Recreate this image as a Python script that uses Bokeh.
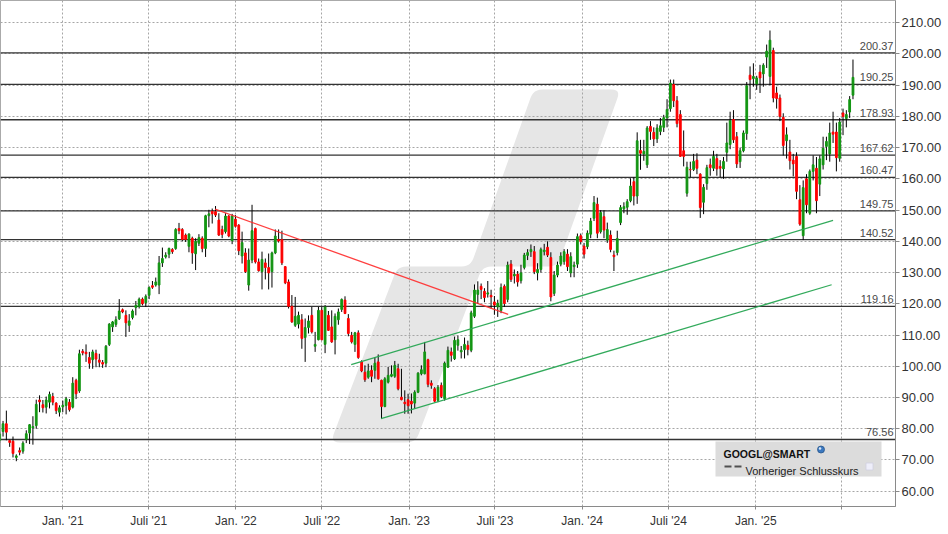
import math
import pandas as pd
from bokeh.plotting import figure
from bokeh.models import (ColumnDataSource, Range1d, FixedTicker, PrintfTickFormatter,
                          Span, BoxAnnotation, Label, LabelSet)
from bokeh.core.properties import value
from bokeh.embed import file_html
from bokeh.resources import INLINE

# ---------------------------------------------------------------- data
FIRST_WEEK = "2020-08-21"   # Friday of the first weekly candle

opens = [
    76.2, 79.1, 81.6, 76.2, 76.0, 70.8, 73.0, 72.8, 76.6, 78.6,
    80.3, 81.0, 89.2, 87.7, 86.9, 88.5, 90.3, 88.2, 85.3, 87.0,
    87.4, 88.5, 86.9, 95.5, 92.1, 104.8, 104.5, 102.8, 102.1, 104.1,
    102.0, 101.2, 101.0, 107.0, 112.6, 113.4, 115.2, 118.1, 116.3, 113.1,
    115.6, 118.8, 119.2, 121.5, 120.3, 122.7, 125.8, 126.0, 126.0, 133.1,
    135.0, 135.9, 137.4, 137.7, 144.1, 143.8, 142.0, 138.4, 141.0, 136.0,
    139.4, 141.0, 137.7, 148.2, 149.6, 149.5, 146.8, 143.8, 143.1, 148.1,
    140.2, 147.1, 145.2, 135.3, 136.3, 126.0, 134.0, 144.1, 133.4, 130.3,
    133.1, 131.6, 130.3, 136.3, 140.6, 140.6, 131.9, 127.0, 119.2, 113.1,
    113.5, 114.9, 109.2, 112.4, 116.3, 106.4, 108.5, 117.9, 107.0, 116.3,
    112.6, 108.5, 114.9, 118.2, 121.2, 115.3, 109.9, 107.0, 110.7, 101.4,
    98.1, 96.5, 98.7, 98.7, 101.4, 95.5, 87.1, 94.9, 96.8, 96.8,
    99.2, 90.1, 88.5, 89.3, 88.8, 88.2, 91.7, 97.6, 97.6, 102.1,
    94.6, 92.8, 89.1, 93.9, 89.6, 99.7, 104.6, 102.4, 106.7, 104.6,
    105.3, 106.7, 105.1, 116.0, 123.0, 125.6, 124.0, 123.1, 122.7, 120.6,
    119.0, 117.9, 125.6, 121.4, 132.7, 128.9, 129.5, 127.4, 131.6, 135.5,
    136.7, 136.7, 129.9, 131.0, 136.7, 138.1, 134.8, 123.3, 129.2, 132.7,
    133.5, 135.9, 129.9, 131.9, 132.7, 141.8, 138.5, 138.3, 142.3, 147.4,
    151.9, 143.1, 147.9, 140.4, 142.0, 135.6, 136.4, 146.0, 150.4, 150.9,
    153.0, 159.1, 154.5, 169.1, 168.0, 164.5, 176.8, 174.9, 172.8, 175.2,
    176.5, 179.5, 182.5, 190.2, 185.0, 180.6, 169.0, 155.4, 163.0, 163.0,
    166.0, 161.5, 152.5, 158.5, 164.5, 163.4, 166.5, 164.0, 163.2, 168.5,
    171.0, 179.0, 173.5, 165.5, 169.0, 174.5, 193.2, 192.1, 190.4, 194.2,
    193.6, 199.0, 192.8, 201.1, 187.5, 185.9, 179.7, 172.2, 168.6, 166.0,
    167.2, 153.3, 141.8, 160.0, 149.0, 162.4, 163.4, 158.3, 164.5, 170.4,
    168.0, 175.0, 175.0, 166.6, 181.1, 179.3, 181.4, 186.8,
]
highs = [
    79.0, 82.5, 85.8, 76.5, 77.5, 71.8, 74.0, 76.0, 79.5, 81.5,
    84.0, 89.3, 90.7, 89.2, 90.3, 91.9, 91.5, 88.5, 87.5, 89.0,
    90.2, 89.5, 96.5, 96.0, 105.3, 105.5, 107.0, 104.6, 105.3, 105.3,
    104.0, 102.0, 106.8, 113.8, 114.5, 116.0, 121.5, 118.5, 117.9, 116.7,
    118.2, 120.9, 122.0, 122.0, 123.0, 125.6, 127.3, 128.4, 135.3, 138.0,
    136.5, 138.0, 137.8, 144.2, 145.9, 144.2, 142.5, 142.6, 141.5, 141.0,
    142.3, 141.6, 148.5, 150.1, 150.5, 151.3, 149.0, 145.0, 149.0, 148.4,
    148.8, 148.4, 145.5, 143.1, 137.8, 137.7, 151.7, 144.4, 134.5, 136.7,
    134.5, 136.1, 136.7, 143.8, 143.8, 143.4, 132.1, 127.8, 122.8, 122.2,
    117.5, 116.7, 115.3, 116.3, 119.0, 111.0, 119.0, 119.0, 119.6, 117.7,
    117.9, 116.9, 118.5, 121.7, 122.4, 116.7, 111.0, 111.0, 111.5, 101.9,
    100.3, 100.8, 100.3, 102.9, 103.8, 95.7, 96.5, 99.8, 100.3, 101.7,
    100.8, 99.2, 92.3, 91.2, 91.3, 92.3, 98.1, 100.3, 107.8, 102.4,
    95.5, 93.3, 94.0, 94.8, 101.5, 106.3, 106.0, 109.5, 109.8, 106.5,
    109.2, 108.2, 117.8, 126.2, 127.2, 126.5, 125.0, 127.3, 124.5, 122.5,
    121.3, 126.5, 126.2, 133.5, 134.0, 131.0, 130.5, 132.5, 136.3, 137.5,
    139.0, 138.5, 133.0, 138.0, 139.2, 140.0, 136.5, 130.5, 133.5, 136.5,
    137.5, 137.5, 136.5, 133.5, 142.5, 142.5, 139.5, 143.5, 147.5, 154.5,
    154.0, 150.0, 150.0, 146.0, 143.5, 137.0, 143.4, 151.6, 152.5, 153.5,
    160.2, 160.5, 174.9, 172.5, 172.5, 176.9, 178.5, 176.5, 177.5, 179.5,
    180.5, 185.5, 191.8, 191.8, 186.5, 182.0, 175.5, 165.5, 165.5, 168.0,
    168.2, 161.8, 158.3, 164.5, 166.5, 169.0, 168.0, 166.0, 167.0, 178.0,
    181.5, 182.0, 175.0, 170.0, 175.5, 191.0, 196.0, 197.0, 193.0, 196.5,
    197.0, 203.0, 207.5, 202.0, 189.5, 187.0, 181.0, 176.5, 172.5, 168.0,
    168.5, 158.0, 159.5, 161.5, 163.0, 167.5, 167.0, 167.5, 173.5, 173.5,
    178.0, 181.5, 178.0, 179.5, 182.5, 182.0, 186.5, 198.2,
]
lows = [
    75.5, 77.5, 76.3, 74.2, 70.8, 69.6, 71.5, 72.0, 75.4, 75.1,
    74.9, 80.0, 85.3, 85.2, 84.9, 86.5, 87.5, 84.7, 83.9, 85.3,
    84.6, 85.5, 86.5, 89.5, 91.5, 103.5, 101.4, 99.2, 99.2, 99.7,
    99.7, 99.5, 99.7, 106.5, 111.0, 112.6, 114.8, 117.0, 109.4, 111.0,
    115.0, 116.3, 118.5, 119.5, 119.0, 121.5, 124.8, 125.5, 123.1, 131.8,
    134.5, 134.6, 136.0, 137.3, 142.3, 140.0, 139.8, 136.5, 132.8, 130.8,
    138.5, 136.5, 135.0, 144.5, 145.7, 147.8, 141.7, 141.0, 142.5, 141.3,
    139.1, 144.4, 135.6, 132.9, 129.9, 124.2, 133.0, 132.9, 130.3, 124.6,
    127.8, 124.6, 125.2, 135.9, 139.6, 132.4, 126.3, 118.5, 113.9, 112.6,
    112.1, 105.6, 101.4, 110.5, 110.5, 104.6, 108.3, 108.3, 104.2, 111.3,
    107.5, 103.8, 113.3, 117.4, 116.7, 109.6, 107.3, 104.6, 102.4, 98.1,
    95.0, 96.0, 94.9, 96.0, 95.7, 83.2, 86.9, 94.5, 96.5, 96.3,
    92.3, 89.1, 84.8, 84.8, 84.9, 86.4, 91.4, 97.1, 97.4, 93.3,
    92.8, 88.5, 88.5, 89.8, 89.0, 99.5, 101.5, 102.0, 105.0, 102.5,
    102.5, 103.5, 104.5, 115.5, 120.0, 121.5, 120.5, 122.0, 118.5, 116.5,
    115.8, 117.0, 119.0, 120.5, 127.0, 126.5, 125.5, 126.5, 131.0, 134.0,
    135.0, 129.5, 127.5, 130.0, 135.5, 135.0, 120.8, 122.5, 128.5, 132.0,
    132.5, 130.5, 128.5, 128.5, 131.5, 139.0, 134.5, 137.5, 141.0, 146.5,
    141.0, 142.5, 141.0, 139.5, 136.5, 130.5, 135.5, 145.2, 149.0, 148.5,
    152.5, 151.5, 152.0, 162.9, 165.8, 163.5, 172.5, 170.5, 171.5, 174.0,
    175.0, 176.5, 181.5, 183.0, 176.5, 167.0, 164.0, 154.3, 160.5, 162.5,
    161.5, 147.5, 148.7, 156.5, 161.0, 162.5, 161.0, 160.5, 160.0, 165.5,
    169.5, 171.5, 163.5, 163.5, 168.5, 172.5, 185.5, 189.5, 188.5, 187.5,
    189.5, 195.5, 190.0, 184.5, 182.5, 178.5, 167.5, 166.5, 163.0, 160.8,
    153.5, 145.0, 140.4, 149.0, 148.5, 159.5, 149.0, 154.5, 163.0, 166.0,
    165.5, 171.5, 162.4, 165.5, 174.0, 176.5, 179.5, 185.5,
]
closes = [
    78.4, 81.6, 78.9, 75.6, 72.1, 71.3, 72.5, 75.4, 78.4, 81.3,
    80.7, 87.8, 88.6, 86.7, 89.2, 91.0, 88.5, 85.8, 86.7, 87.5,
    89.6, 86.1, 94.6, 91.2, 104.0, 104.3, 104.0, 101.0, 104.6, 102.3,
    101.3, 100.7, 106.4, 113.5, 114.2, 114.9, 117.7, 117.4, 113.9, 114.5,
    117.7, 119.5, 121.5, 120.0, 122.4, 125.2, 125.3, 127.0, 133.1, 134.5,
    135.6, 137.7, 136.7, 143.8, 143.4, 140.6, 140.6, 142.3, 136.3, 140.0,
    141.2, 137.7, 148.2, 148.8, 148.8, 148.4, 142.0, 142.2, 148.1, 141.7,
    148.1, 144.8, 137.0, 139.6, 130.3, 134.0, 143.4, 133.4, 130.6, 134.2,
    131.6, 129.9, 136.3, 141.7, 140.1, 133.1, 126.7, 119.2, 114.2, 116.0,
    116.3, 108.9, 112.4, 114.5, 111.0, 107.0, 117.9, 108.5, 119.0, 111.5,
    107.8, 116.0, 117.4, 121.4, 116.9, 110.5, 107.8, 110.7, 102.8, 98.5,
    95.7, 98.5, 96.8, 101.0, 96.0, 87.1, 96.0, 97.1, 97.4, 100.3,
    92.8, 89.3, 88.0, 87.4, 87.9, 91.7, 97.8, 98.9, 104.6, 94.2,
    93.9, 88.8, 93.3, 90.3, 101.0, 105.1, 103.5, 108.3, 108.5, 105.1,
    107.0, 105.4, 117.1, 124.4, 124.4, 124.6, 122.0, 123.5, 122.2, 119.6,
    120.2, 125.2, 120.1, 132.4, 127.8, 129.5, 127.0, 129.9, 135.6, 136.4,
    137.4, 130.3, 131.0, 137.4, 137.2, 135.6, 122.2, 129.2, 132.4, 135.3,
    136.7, 131.9, 135.1, 132.4, 141.5, 139.9, 135.9, 142.6, 146.5, 152.4,
    142.6, 149.2, 143.6, 143.8, 137.4, 135.1, 140.9, 150.8, 151.1, 152.7,
    157.7, 154.5, 172.2, 168.2, 168.8, 176.3, 175.2, 172.8, 176.3, 177.0,
    179.6, 182.2, 190.6, 185.0, 177.7, 167.2, 167.2, 163.7, 162.9, 165.6,
    163.4, 150.8, 157.3, 163.6, 163.6, 167.2, 163.2, 163.4, 165.6, 171.5,
    178.6, 172.5, 164.8, 169.0, 174.7, 189.8, 191.8, 192.8, 192.3, 192.3,
    196.4, 200.9, 204.4, 185.9, 185.7, 180.0, 170.7, 174.1, 165.8, 164.8,
    156.0, 145.5, 157.2, 151.7, 162.4, 164.5, 153.0, 166.4, 169.8, 172.0,
    174.7, 174.3, 166.8, 178.2, 180.0, 180.6, 185.4, 192.5,
]

support_levels = [200.37, 190.25, 178.93, 167.62, 160.47, 149.75, 140.52, 119.16, 76.56]

x_tick_dates = ["2021-01-01", "2021-07-01", "2022-01-01", "2022-07-01", "2023-01-01",
                "2023-07-01", "2024-01-01", "2024-07-01", "2025-01-01", "2025-07-01"]
x_tick_labels = ["Jan. '21", "Juli '21", "Jan. '22", "Juli '22", "Jan. '23",
                 "Juli '23", "Jan. '24", "Juli '24", "Jan. '25", ""]
y_ticks = [60, 70, 80, 90, 100, 110, 120, 130, 140, 150, 160, 170, 180, 190, 200, 210]

red_trend_dates = ["2021-11-18", "2023-07-29"]
red_trend_values = [150.3, 116.6]
green_upper_dates = ["2022-09-01", "2025-06-13"]
green_upper_values = [100.5, 146.7]
green_lower_dates = ["2022-11-03", "2025-06-10"]
green_lower_values = [83.2, 126.1]

legend_title = "GOOGL@SMART"
legend_entry = "Vorheriger Schlusskurs"

# ---------------------------------------------------------------- layout helpers
W, H = 948, 534
FRAME_R, FRAME_B = 895, 506
REF_DATE = pd.Timestamp("2021-01-01")
REF_DATE_PX, PX_PER_DAY = 62.3, 0.4743
REF_PRICE, REF_PRICE_PX, PX_PER_UNIT = 60.0, 490.7, 3.1233
MS_PER_DAY = 86400000.0


def xpx(px):
    return REF_DATE.value / 1e6 + (px - REF_DATE_PX) / PX_PER_DAY * MS_PER_DAY


def ypx(py):
    return REF_PRICE + (REF_PRICE_PX - py) / PX_PER_UNIT


def ms(d):
    return pd.Timestamp(d).value / 1e6


def rounded(poly, r=9.0, steps=6):
    """Round the corners of a pixel-space polygon (decorative watermark)."""
    out = []
    n = len(poly)
    for i in range(n):
        px_, py_ = poly[i - 1]
        vx, vy = poly[i]
        nx, ny = poly[(i + 1) % n]
        d1 = math.hypot(px_ - vx, py_ - vy)
        d2 = math.hypot(nx - vx, ny - vy)
        rr = min(r, d1 / 2, d2 / 2)
        ax, ay = vx + (px_ - vx) / d1 * rr, vy + (py_ - vy) / d1 * rr
        bx, by = vx + (nx - vx) / d2 * rr, vy + (ny - vy) / d2 * rr
        for s in range(steps + 1):
            t = s / steps
            x = (1 - t) ** 2 * ax + 2 * (1 - t) * t * vx + t ** 2 * bx
            y = (1 - t) ** 2 * ay + 2 * (1 - t) * t * vy + t ** 2 * by
            out.append((x, y))
    return out


FONT = "Liberation Sans"
GREEN = "#139613"
RED = "#ff0000"

# ---------------------------------------------------------------- figure
p = figure(width=W, height=H, x_axis_type="datetime", y_axis_location="right",
           x_range=Range1d(xpx(0), xpx(FRAME_R)),
           y_range=Range1d(ypx(FRAME_B), ypx(0)),
           output_backend="svg", toolbar_location=None,
           min_border_left=0, min_border_top=0,
           min_border_right=W - FRAME_R, min_border_bottom=H - FRAME_B)
p.background_fill_color = "white"
p.border_fill_color = "white"
p.outline_line_color = "#aaaaaa"
p.outline_line_width = 1

xt = FixedTicker(ticks=[ms(d) for d in x_tick_dates])
yt = FixedTicker(ticks=y_ticks)
p.xaxis.ticker = xt
p.xgrid.ticker = xt
p.yaxis.ticker = yt
p.ygrid.ticker = yt
p.xaxis.major_label_overrides = {ms(d): lab for d, lab in zip(x_tick_dates, x_tick_labels)}
p.yaxis.formatter = PrintfTickFormatter(format="%.2f")

for ax in (p.xaxis, p.yaxis):
    ax.axis_line_color = "#8a8a8a"
    ax.major_tick_line_color = "#8a8a8a"
    ax.major_tick_in = 0
    ax.minor_tick_out = 0
    ax.minor_tick_in = 0
    ax.major_label_text_font = FONT
    ax.major_label_text_color = "#333333"
p.xaxis.major_tick_out = 3
p.xaxis.major_label_standoff = 4
p.xaxis.major_label_text_font_size = "12px"
p.yaxis.major_tick_out = 4
p.yaxis.major_label_standoff = 2
p.yaxis.major_label_text_font_size = "13px"

p.grid.grid_line_color = "#a6a6a6"
p.grid.grid_line_dash = "2 2"
p.grid.grid_line_width = 1

# watermark logo (decorative), pixel outline converted to plot coordinates
wm_px = rounded([(330, 442), (397, 266), (470, 266), (533, 89), (620, 89),
                 (557, 266), (482, 266), (415, 442)])
p.patch([xpx(a) for a, b in wm_px], [ypx(b) for a, b in wm_px],
        fill_color="#e6e6e6", line_color=None, level="image")

# horizontal support / resistance lines
for v in support_levels:
    p.add_layout(Span(location=v, dimension="width", line_color="#333333",
                      line_width=1.3, level="underlay"))

# candles
dates = pd.date_range(FIRST_WEEK, periods=len(closes), freq="7D")
src = ColumnDataSource(dict(
    date=dates, high=highs, low=lows,
    top=[max(o, c) for o, c in zip(opens, closes)],
    bottom=[min(o, c) for o, c in zip(opens, closes)],
    color=[GREEN if c >= o else RED for o, c in zip(opens, closes)],
))
p.segment(x0="date", y0="low", x1="date", y1="high", source=src,
          line_color="black", line_width=1)
p.vbar(x="date", width=3.7 * MS_PER_DAY, top="top", bottom="bottom", source=src,
       fill_color="color", line_color="color", line_width=1)

# trend lines
p.line([ms(d) for d in red_trend_dates], red_trend_values,
       line_color="#ff2a2a", line_width=1.3, line_alpha=0.9)
p.line([ms(d) for d in green_upper_dates], green_upper_values,
       line_color="#27a552", line_width=1.3, line_alpha=0.95)
p.line([ms(d) for d in green_lower_dates], green_lower_values,
       line_color="#27a552", line_width=1.3, line_alpha=0.95)

# level labels
lab_src = ColumnDataSource(dict(y=support_levels,
                                text=["%.2f" % v for v in support_levels]))
p.add_layout(LabelSet(x=xpx(FRAME_R - 2), y="y", text="text", source=lab_src,
                      y_offset=3, text_align="right", text_baseline="alphabetic",
                      text_font=value(FONT), text_font_size=value("11px"),
                      text_color=value("#4a4a4a")))

# legend box
p.add_layout(BoxAnnotation(left=xpx(715), right=xpx(881), top=ypx(441), bottom=ypx(476),
                           fill_color="#dcdcdc", fill_alpha=1.0, line_color=None))
p.add_layout(Label(x=xpx(723), y=ypx(453.5), text=legend_title, text_font=FONT,
                   text_font_size="10.5px", text_font_style="bold", text_color="#111111",
                   text_baseline="alphabetic"))
p.add_layout(Label(x=xpx(745), y=ypx(470), text=legend_entry, text_font=FONT,
                   text_font_size="11px", text_color="#222222",
                   text_baseline="alphabetic"))
p.line([xpx(724), xpx(741)], [ypx(466), ypx(466)], line_color="#505050",
       line_width=2, line_dash="7 3", level="overlay")
p.scatter([xpx(820.5)], [ypx(449)], size=7, marker="circle", fill_color="#3b78c0",
          line_color="#27558a", line_width=0.8, level="overlay")
p.scatter([xpx(819.5)], [ypx(448)], size=2.5, marker="circle", fill_color="#dbe8f7",
          line_color=None, level="overlay")
p.scatter([xpx(869)], [ypx(466)], size=7, marker="square", fill_color="#eeeefa",
          line_color="#cfcfe0", line_width=0.8, level="overlay")

open("out.html", "w").write(file_html(p, INLINE))
